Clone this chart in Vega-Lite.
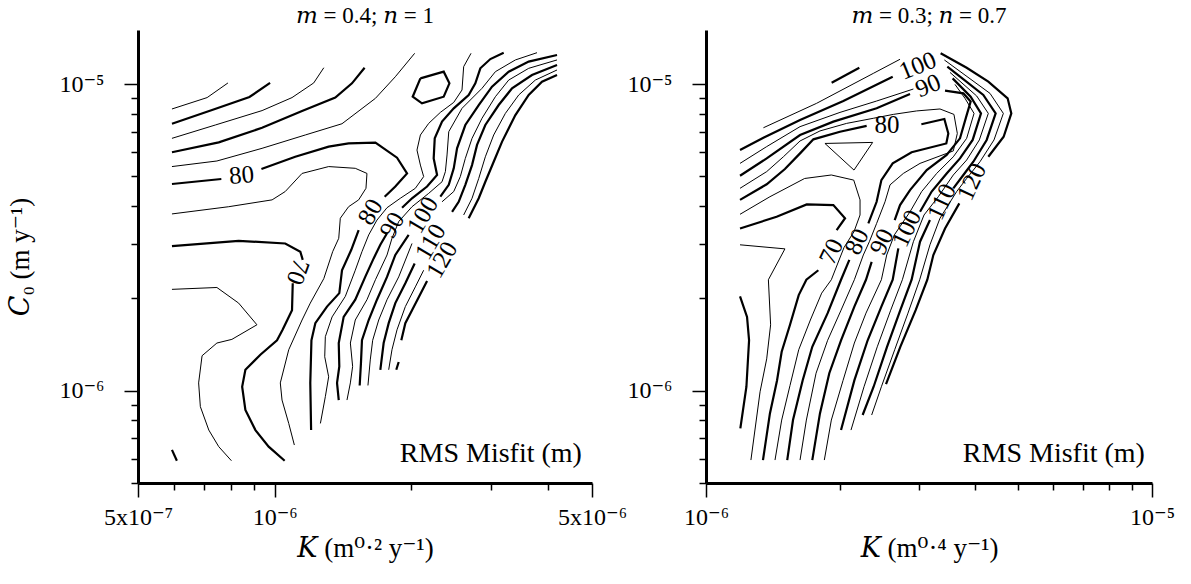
{
  "$schema": "https://vega.github.io/schema/vega-lite/v6.json",
  "background": "white",
  "padding": {"left": 6, "top": 5, "right": 5, "bottom": 5},
  "bounds": "flush",
  "spacing": 114,
  "config": {
    "view": {"stroke": null},
    "font": "Times New Roman, Liberation Serif, DejaVu Serif, serif",
    "axis": {"domainColor": "black", "domainWidth": 3, "tickColor": "black", "tickWidth": 1.5, "labelColor": "black", "labelFont": "Times New Roman, Liberation Serif, DejaVu Serif, serif", "labelFontSize": 24, "titleFont": "Times New Roman, Liberation Serif, DejaVu Serif, serif", "titleFontSize": 27, "titleFontWeight": "normal", "titleColor": "black", "grid": false, "labelFlush": false, "labelOverlap": false},
    "title": {"font": "Times New Roman, Liberation Serif, DejaVu Serif, serif", "fontSize": 23, "fontWeight": "normal", "color": "black"},
    "text": {"font": "Times New Roman, Liberation Serif, DejaVu Serif, serif", "color": "black"}
  },
  "datasets": {
    "leftLines": [
      {"id": "A1", "kind": "minor", "K": 5.94e-7, "C0": 8.29e-6}, {"id": "A1", "kind": "minor", "K": 7.10e-7, "C0": 9.03e-6}, {"id": "A1", "kind": "minor", "K": 7.89e-7, "C0": 1.008e-5},
      {"id": "A2", "kind": "major", "K": 5.94e-7, "C0": 7.42e-6}, {"id": "A2", "kind": "major", "K": 7.28e-7, "C0": 8.23e-6}, {"id": "A2", "kind": "major", "K": 8.80e-7, "C0": 9.07e-6}, {"id": "A2", "kind": "major", "K": 9.77e-7, "C0": 1.008e-5},
      {"id": "A3", "kind": "minor", "K": 5.94e-7, "C0": 6.65e-6}, {"id": "A3", "kind": "minor", "K": 7.40e-7, "C0": 7.35e-6}, {"id": "A3", "kind": "minor", "K": 9.38e-7, "C0": 8.19e-6}, {"id": "A3", "kind": "minor", "K": 1.092e-6, "C0": 9.03e-6}, {"id": "A3", "kind": "minor", "K": 1.219e-6, "C0": 1.008e-5}, {"id": "A3", "kind": "minor", "K": 1.283e-6, "C0": 1.130e-5},
      {"id": "A4", "kind": "major", "K": 5.94e-7, "C0": 5.99e-6}, {"id": "A4", "kind": "major", "K": 7.53e-7, "C0": 6.45e-6}, {"id": "A4", "kind": "major", "K": 9.38e-7, "C0": 7.20e-6}, {"id": "A4", "kind": "major", "K": 1.149e-6, "C0": 8.17e-6}, {"id": "A4", "kind": "major", "K": 1.360e-6, "C0": 9.03e-6}, {"id": "A4", "kind": "major", "K": 1.480e-6, "C0": 1.005e-5}, {"id": "A4", "kind": "major", "K": 1.578e-6, "C0": 1.130e-5},
      {"id": "A5", "kind": "minor", "K": 5.94e-7, "C0": 5.38e-6}, {"id": "A5", "kind": "minor", "K": 7.46e-7, "C0": 5.61e-6}, {"id": "A5", "kind": "minor", "K": 9.38e-7, "C0": 6.17e-6}, {"id": "A5", "kind": "minor", "K": 1.168e-6, "C0": 6.82e-6}, {"id": "A5", "kind": "minor", "K": 1.407e-6, "C0": 7.42e-6}, {"id": "A5", "kind": "minor", "K": 1.667e-6, "C0": 8.98e-6}, {"id": "A5", "kind": "minor", "K": 1.844e-6, "C0": 1.056e-5}, {"id": "A5", "kind": "minor", "K": 2.034e-6, "C0": 1.259e-5},
      {"id": "L80a", "kind": "major", "K": 5.94e-7, "C0": 4.72e-6}, {"id": "L80a", "kind": "major", "K": 7.63e-7, "C0": 4.90e-6},
      {"id": "L80b", "kind": "major", "K": 9.35e-7, "C0": 5.28e-6}, {"id": "L80b", "kind": "major", "K": 1.110e-6, "C0": 5.79e-6}, {"id": "L80b", "kind": "major", "K": 1.315e-6, "C0": 6.25e-6}, {"id": "L80b", "kind": "major", "K": 1.455e-6, "C0": 6.40e-6}, {"id": "L80b", "kind": "major", "K": 1.667e-6, "C0": 6.44e-6}, {"id": "L80b", "kind": "major", "K": 1.860e-6, "C0": 5.75e-6}, {"id": "L80b", "kind": "major", "K": 1.957e-6, "C0": 5.11e-6}, {"id": "L80b", "kind": "major", "K": 1.844e-6, "C0": 4.63e-6}, {"id": "L80b", "kind": "major", "K": 1.747e-6, "C0": 4.29e-6},
      {"id": "L80c", "kind": "major", "K": 1.531e-6, "C0": 3.34e-6}, {"id": "L80c", "kind": "major", "K": 1.475e-6, "C0": 2.88e-6}, {"id": "L80c", "kind": "major", "K": 1.407e-6, "C0": 2.47e-6}, {"id": "L80c", "kind": "major", "K": 1.388e-6, "C0": 2.08e-6}, {"id": "L80c", "kind": "major", "K": 1.304e-6, "C0": 1.88e-6}, {"id": "L80c", "kind": "major", "K": 1.229e-6, "C0": 1.66e-6}, {"id": "L80c", "kind": "major", "K": 1.205e-6, "C0": 1.46e-6}, {"id": "L80c", "kind": "major", "K": 1.198e-6, "C0": 1.06e-6}, {"id": "L80c", "kind": "major", "K": 1.203e-6, "C0": 7.44e-7},
      {"id": "L75", "kind": "minor", "K": 5.94e-7, "C0": 3.77e-6}, {"id": "L75", "kind": "minor", "K": 7.92e-7, "C0": 3.98e-6}, {"id": "L75", "kind": "minor", "K": 9.87e-7, "C0": 4.19e-6}, {"id": "L75", "kind": "minor", "K": 1.055e-6, "C0": 4.46e-6}, {"id": "L75", "kind": "minor", "K": 1.149e-6, "C0": 5.11e-6}, {"id": "L75", "kind": "minor", "K": 1.315e-6, "C0": 5.38e-6}, {"id": "L75", "kind": "minor", "K": 1.505e-6, "C0": 5.31e-6}, {"id": "L75", "kind": "minor", "K": 1.597e-6, "C0": 5.11e-6}, {"id": "L75", "kind": "minor", "K": 1.589e-6, "C0": 4.57e-6}, {"id": "L75", "kind": "minor", "K": 1.531e-6, "C0": 4.19e-6}, {"id": "L75", "kind": "minor", "K": 1.455e-6, "C0": 3.98e-6}, {"id": "L75", "kind": "minor", "K": 1.395e-6, "C0": 3.65e-6}, {"id": "L75", "kind": "minor", "K": 1.384e-6, "C0": 3.14e-6}, {"id": "L75", "kind": "minor", "K": 1.342e-6, "C0": 2.84e-6}, {"id": "L75", "kind": "minor", "K": 1.283e-6, "C0": 2.32e-6}, {"id": "L75", "kind": "minor", "K": 1.198e-6, "C0": 1.93e-6}, {"id": "L75", "kind": "minor", "K": 1.149e-6, "C0": 1.70e-6}, {"id": "L75", "kind": "minor", "K": 1.074e-6, "C0": 1.36e-6}, {"id": "L75", "kind": "minor", "K": 1.029e-6, "C0": 1.06e-6}, {"id": "L75", "kind": "minor", "K": 1.038e-6, "C0": 9.32e-7}, {"id": "L75", "kind": "minor", "K": 1.074e-6, "C0": 7.82e-7}, {"id": "L75", "kind": "minor", "K": 1.105e-6, "C0": 6.65e-7},
      {"id": "L70a", "kind": "major", "K": 5.94e-7, "C0": 2.96e-6}, {"id": "L70a", "kind": "major", "K": 8.33e-7, "C0": 3.08e-6}, {"id": "L70a", "kind": "major", "K": 1.055e-6, "C0": 3.02e-6}, {"id": "L70a", "kind": "major", "K": 1.139e-6, "C0": 2.84e-6}, {"id": "L70a", "kind": "major", "K": 1.153e-6, "C0": 2.67e-6},
      {"id": "L70b", "kind": "major", "K": 1.096e-6, "C0": 2.24e-6}, {"id": "L70b", "kind": "major", "K": 1.092e-6, "C0": 1.83e-6}, {"id": "L70b", "kind": "major", "K": 1.041e-6, "C0": 1.58e-6}, {"id": "L70b", "kind": "major", "K": 1.012e-6, "C0": 1.46e-6}, {"id": "L70b", "kind": "major", "K": 9.30e-7, "C0": 1.31e-6}, {"id": "L70b", "kind": "major", "K": 8.62e-7, "C0": 1.17e-6}, {"id": "L70b", "kind": "major", "K": 8.48e-7, "C0": 1.03e-6}, {"id": "L70b", "kind": "major", "K": 8.62e-7, "C0": 8.65e-7}, {"id": "L70b", "kind": "major", "K": 9.07e-7, "C0": 7.44e-7}, {"id": "L70b", "kind": "major", "K": 9.70e-7, "C0": 6.57e-7}, {"id": "L70b", "kind": "major", "K": 1.052e-6, "C0": 5.91e-7},
      {"id": "L65", "kind": "minor", "K": 5.94e-7, "C0": 2.14e-6}, {"id": "L65", "kind": "minor", "K": 7.46e-7, "C0": 2.17e-6}, {"id": "L65", "kind": "minor", "K": 8.33e-7, "C0": 1.93e-6}, {"id": "L65", "kind": "minor", "K": 9.14e-7, "C0": 1.64e-6}, {"id": "L65", "kind": "minor", "K": 8.05e-7, "C0": 1.47e-6}, {"id": "L65", "kind": "minor", "K": 7.46e-7, "C0": 1.43e-6}, {"id": "L65", "kind": "minor", "K": 6.92e-7, "C0": 1.30e-6}, {"id": "L65", "kind": "minor", "K": 6.80e-7, "C0": 1.06e-6}, {"id": "L65", "kind": "minor", "K": 6.86e-7, "C0": 8.87e-7}, {"id": "L65", "kind": "minor", "K": 7.16e-7, "C0": 7.44e-7}, {"id": "L65", "kind": "minor", "K": 7.53e-7, "C0": 6.57e-7}, {"id": "L65", "kind": "minor", "K": 8.03e-7, "C0": 5.91e-7},
      {"id": "L60", "kind": "major", "K": 5.94e-7, "C0": 6.41e-7}, {"id": "L60", "kind": "major", "K": 6.09e-7, "C0": 5.91e-7},
      {"id": "L85", "kind": "minor", "K": 2.707e-6, "C0": 1.259e-5}, {"id": "L85", "kind": "minor", "K": 2.608e-6, "C0": 1.139e-5}, {"id": "L85", "kind": "minor", "K": 2.586e-6, "C0": 9.56e-6}, {"id": "L85", "kind": "minor", "K": 2.480e-6, "C0": 8.71e-6}, {"id": "L85", "kind": "minor", "K": 2.317e-6, "C0": 8.08e-6}, {"id": "L85", "kind": "minor", "K": 2.184e-6, "C0": 7.44e-6}, {"id": "L85", "kind": "minor", "K": 2.094e-6, "C0": 6.82e-6}, {"id": "L85", "kind": "minor", "K": 2.058e-6, "C0": 6.09e-6}, {"id": "L85", "kind": "minor", "K": 2.094e-6, "C0": 5.44e-6}, {"id": "L85", "kind": "minor", "K": 2.129e-6, "C0": 4.99e-6}, {"id": "L85", "kind": "minor", "K": 2.041e-6, "C0": 4.57e-6}, {"id": "L85", "kind": "minor", "K": 1.891e-6, "C0": 4.24e-6}, {"id": "L85", "kind": "minor", "K": 1.768e-6, "C0": 3.95e-6}, {"id": "L85", "kind": "minor", "K": 1.680e-6, "C0": 3.60e-6}, {"id": "L85", "kind": "minor", "K": 1.611e-6, "C0": 3.22e-6}, {"id": "L85", "kind": "minor", "K": 1.557e-6, "C0": 2.84e-6}, {"id": "L85", "kind": "minor", "K": 1.505e-6, "C0": 2.47e-6}, {"id": "L85", "kind": "minor", "K": 1.431e-6, "C0": 2.03e-6}, {"id": "L85", "kind": "minor", "K": 1.338e-6, "C0": 1.74e-6}, {"id": "L85", "kind": "minor", "K": 1.293e-6, "C0": 1.50e-6}, {"id": "L85", "kind": "minor", "K": 1.289e-6, "C0": 1.29e-6}, {"id": "L85", "kind": "minor", "K": 1.315e-6, "C0": 1.11e-6}, {"id": "L85", "kind": "minor", "K": 1.293e-6, "C0": 9.56e-7}, {"id": "L85", "kind": "minor", "K": 1.261e-6, "C0": 7.82e-7},
      {"id": "L90a", "kind": "major", "K": 3.195e-6, "C0": 1.265e-5}, {"id": "L90a", "kind": "major", "K": 2.986e-6, "C0": 1.206e-5}, {"id": "L90a", "kind": "major", "K": 2.838e-6, "C0": 1.125e-5}, {"id": "L90a", "kind": "major", "K": 2.767e-6, "C0": 1.005e-5}, {"id": "L90a", "kind": "major", "K": 2.675e-6, "C0": 9.21e-6}, {"id": "L90a", "kind": "major", "K": 2.480e-6, "C0": 8.33e-6}, {"id": "L90a", "kind": "major", "K": 2.337e-6, "C0": 7.54e-6}, {"id": "L90a", "kind": "major", "K": 2.252e-6, "C0": 6.65e-6}, {"id": "L90a", "kind": "major", "K": 2.240e-6, "C0": 5.72e-6}, {"id": "L90a", "kind": "major", "K": 2.279e-6, "C0": 5.05e-6}, {"id": "L90a", "kind": "major", "K": 2.166e-6, "C0": 4.63e-6}, {"id": "L90a", "kind": "major", "K": 2.007e-6, "C0": 4.24e-6}, {"id": "L90a", "kind": "major", "K": 1.908e-6, "C0": 3.95e-6},
      {"id": "L90b", "kind": "major", "K": 1.768e-6, "C0": 3.26e-6}, {"id": "L90b", "kind": "major", "K": 1.709e-6, "C0": 2.99e-6}, {"id": "L90b", "kind": "major", "K": 1.652e-6, "C0": 2.70e-6}, {"id": "L90b", "kind": "major", "K": 1.583e-6, "C0": 2.35e-6}, {"id": "L90b", "kind": "major", "K": 1.505e-6, "C0": 1.98e-6}, {"id": "L90b", "kind": "major", "K": 1.419e-6, "C0": 1.74e-6}, {"id": "L90b", "kind": "major", "K": 1.384e-6, "C0": 1.43e-6}, {"id": "L90b", "kind": "major", "K": 1.388e-6, "C0": 1.20e-6}, {"id": "L90b", "kind": "major", "K": 1.372e-6, "C0": 1.06e-6}, {"id": "L90b", "kind": "major", "K": 1.384e-6, "C0": 9.32e-7},
      {"id": "L95", "kind": "minor", "K": 3.783e-6, "C0": 1.265e-5}, {"id": "L95", "kind": "minor", "K": 3.390e-6, "C0": 1.198e-5}, {"id": "L95", "kind": "minor", "K": 3.063e-6, "C0": 1.097e-5}, {"id": "L95", "kind": "minor", "K": 2.862e-6, "C0": 9.68e-6}, {"id": "L95", "kind": "minor", "K": 2.586e-6, "C0": 8.33e-6}, {"id": "L95", "kind": "minor", "K": 2.418e-6, "C0": 6.99e-6}, {"id": "L95", "kind": "minor", "K": 2.397e-6, "C0": 5.87e-6}, {"id": "L95", "kind": "minor", "K": 2.377e-6, "C0": 5.18e-6}, {"id": "L95", "kind": "minor", "K": 2.337e-6, "C0": 4.80e-6}, {"id": "L95", "kind": "minor", "K": 2.184e-6, "C0": 4.40e-6}, {"id": "L95", "kind": "minor", "K": 2.007e-6, "C0": 3.98e-6}, {"id": "L95", "kind": "minor", "K": 1.876e-6, "C0": 3.56e-6}, {"id": "L95", "kind": "minor", "K": 1.813e-6, "C0": 3.14e-6}, {"id": "L95", "kind": "minor", "K": 1.768e-6, "C0": 2.77e-6}, {"id": "L95", "kind": "minor", "K": 1.667e-6, "C0": 2.30e-6}, {"id": "L95", "kind": "minor", "K": 1.597e-6, "C0": 1.98e-6}, {"id": "L95", "kind": "minor", "K": 1.505e-6, "C0": 1.70e-6}, {"id": "L95", "kind": "minor", "K": 1.468e-6, "C0": 1.43e-6}, {"id": "L95", "kind": "minor", "K": 1.485e-6, "C0": 1.20e-6}, {"id": "L95", "kind": "minor", "K": 1.468e-6, "C0": 1.06e-6}, {"id": "L95", "kind": "minor", "K": 1.443e-6, "C0": 9.32e-7},
      {"id": "L100a", "kind": "major", "K": 4.187e-6, "C0": 1.243e-5}, {"id": "L100a", "kind": "major", "K": 3.627e-6, "C0": 1.183e-5}, {"id": "L100a", "kind": "major", "K": 3.277e-6, "C0": 1.097e-5}, {"id": "L100a", "kind": "major", "K": 3.011e-6, "C0": 9.80e-6}, {"id": "L100a", "kind": "major", "K": 2.815e-6, "C0": 8.54e-6}, {"id": "L100a", "kind": "major", "K": 2.630e-6, "C0": 7.35e-6}, {"id": "L100a", "kind": "major", "K": 2.522e-6, "C0": 6.17e-6}, {"id": "L100a", "kind": "major", "K": 2.480e-6, "C0": 5.31e-6}, {"id": "L100a", "kind": "major", "K": 2.418e-6, "C0": 4.69e-6}, {"id": "L100a", "kind": "major", "K": 2.317e-6, "C0": 4.29e-6},
      {"id": "L100b", "kind": "major", "K": 1.973e-6, "C0": 3.22e-6}, {"id": "L100b", "kind": "major", "K": 1.844e-6, "C0": 2.77e-6}, {"id": "L100b", "kind": "major", "K": 1.768e-6, "C0": 2.35e-6}, {"id": "L100b", "kind": "major", "K": 1.680e-6, "C0": 1.98e-6}, {"id": "L100b", "kind": "major", "K": 1.611e-6, "C0": 1.70e-6}, {"id": "L100b", "kind": "major", "K": 1.557e-6, "C0": 1.46e-6}, {"id": "L100b", "kind": "major", "K": 1.549e-6, "C0": 1.23e-6}, {"id": "L100b", "kind": "major", "K": 1.539e-6, "C0": 1.04e-6},
      {"id": "L105a", "kind": "minor", "K": 4.187e-6, "C0": 1.198e-5}, {"id": "L105a", "kind": "minor", "K": 3.627e-6, "C0": 1.125e-5}, {"id": "L105a", "kind": "minor", "K": 3.277e-6, "C0": 1.030e-5}, {"id": "L105a", "kind": "minor", "K": 3.063e-6, "C0": 9.09e-6}, {"id": "L105a", "kind": "minor", "K": 2.862e-6, "C0": 7.73e-6}, {"id": "L105a", "kind": "minor", "K": 2.721e-6, "C0": 6.65e-6}, {"id": "L105a", "kind": "minor", "K": 2.630e-6, "C0": 5.72e-6}, {"id": "L105a", "kind": "minor", "K": 2.564e-6, "C0": 4.99e-6}, {"id": "L105a", "kind": "minor", "K": 2.480e-6, "C0": 4.46e-6}, {"id": "L105a", "kind": "minor", "K": 2.337e-6, "C0": 4.13e-6},
      {"id": "L105b", "kind": "minor", "K": 2.007e-6, "C0": 3.02e-6}, {"id": "L105b", "kind": "minor", "K": 1.876e-6, "C0": 2.35e-6}, {"id": "L105b", "kind": "minor", "K": 1.768e-6, "C0": 1.98e-6}, {"id": "L105b", "kind": "minor", "K": 1.695e-6, "C0": 1.70e-6}, {"id": "L105b", "kind": "minor", "K": 1.644e-6, "C0": 1.46e-6}, {"id": "L105b", "kind": "minor", "K": 1.624e-6, "C0": 1.26e-6}, {"id": "L105b", "kind": "minor", "K": 1.605e-6, "C0": 1.04e-6},
      {"id": "L110a", "kind": "major", "K": 4.187e-6, "C0": 1.153e-5}, {"id": "L110a", "kind": "major", "K": 3.688e-6, "C0": 1.070e-5}, {"id": "L110a", "kind": "major", "K": 3.333e-6, "C0": 9.68e-6}, {"id": "L110a", "kind": "major", "K": 3.115e-6, "C0": 8.54e-6}, {"id": "L110a", "kind": "major", "K": 2.911e-6, "C0": 7.35e-6}, {"id": "L110a", "kind": "major", "K": 2.791e-6, "C0": 6.33e-6}, {"id": "L110a", "kind": "major", "K": 2.721e-6, "C0": 5.44e-6}, {"id": "L110a", "kind": "major", "K": 2.630e-6, "C0": 4.69e-6}, {"id": "L110a", "kind": "major", "K": 2.543e-6, "C0": 4.13e-6}, {"id": "L110a", "kind": "major", "K": 2.459e-6, "C0": 3.83e-6},
      {"id": "L110b", "kind": "major", "K": 2.034e-6, "C0": 2.60e-6}, {"id": "L110b", "kind": "major", "K": 1.940e-6, "C0": 2.24e-6}, {"id": "L110b", "kind": "major", "K": 1.844e-6, "C0": 1.93e-6}, {"id": "L110b", "kind": "major", "K": 1.783e-6, "C0": 1.66e-6}, {"id": "L110b", "kind": "major", "K": 1.738e-6, "C0": 1.43e-6}, {"id": "L110b", "kind": "major", "K": 1.709e-6, "C0": 1.17e-6},
      {"id": "L115a", "kind": "minor", "K": 4.187e-6, "C0": 1.111e-5}, {"id": "L115a", "kind": "minor", "K": 3.751e-6, "C0": 1.030e-5}, {"id": "L115a", "kind": "minor", "K": 3.448e-6, "C0": 9.21e-6}, {"id": "L115a", "kind": "minor", "K": 3.222e-6, "C0": 8.02e-6}, {"id": "L115a", "kind": "minor", "K": 3.037e-6, "C0": 6.82e-6}, {"id": "L115a", "kind": "minor", "K": 2.911e-6, "C0": 5.79e-6}, {"id": "L115a", "kind": "minor", "K": 2.815e-6, "C0": 4.92e-6}, {"id": "L115a", "kind": "minor", "K": 2.721e-6, "C0": 4.24e-6}, {"id": "L115a", "kind": "minor", "K": 2.608e-6, "C0": 3.74e-6},
      {"id": "L115b", "kind": "minor", "K": 2.129e-6, "C0": 2.47e-6}, {"id": "L115b", "kind": "minor", "K": 2.041e-6, "C0": 2.18e-6}, {"id": "L115b", "kind": "minor", "K": 1.940e-6, "C0": 1.88e-6}, {"id": "L115b", "kind": "minor", "K": 1.860e-6, "C0": 1.58e-6}, {"id": "L115b", "kind": "minor", "K": 1.813e-6, "C0": 1.36e-6}, {"id": "L115b", "kind": "minor", "K": 1.783e-6, "C0": 1.17e-6},
      {"id": "L120a", "kind": "major", "K": 4.187e-6, "C0": 1.070e-5}, {"id": "L120a", "kind": "major", "K": 3.880e-6, "C0": 1.018e-5}, {"id": "L120a", "kind": "major", "K": 3.627e-6, "C0": 9.21e-6}, {"id": "L120a", "kind": "major", "K": 3.390e-6, "C0": 7.92e-6}, {"id": "L120a", "kind": "major", "K": 3.169e-6, "C0": 6.49e-6}, {"id": "L120a", "kind": "major", "K": 3.037e-6, "C0": 5.58e-6}, {"id": "L120a", "kind": "major", "K": 2.911e-6, "C0": 4.80e-6}, {"id": "L120a", "kind": "major", "K": 2.815e-6, "C0": 4.24e-6}, {"id": "L120a", "kind": "major", "K": 2.675e-6, "C0": 3.65e-6},
      {"id": "L120b", "kind": "major", "K": 2.166e-6, "C0": 2.28e-6}, {"id": "L120b", "kind": "major", "K": 2.007e-6, "C0": 1.83e-6}, {"id": "L120b", "kind": "major", "K": 1.940e-6, "C0": 1.66e-6}, {"id": "L120b", "kind": "major", "K": 1.901e-6, "C0": 1.46e-6},
      {"id": "Lsh", "kind": "major", "K": 1.876e-6, "C0": 1.24e-6}, {"id": "Lsh", "kind": "major", "K": 1.853e-6, "C0": 1.17e-6},
      {"id": "Hex", "kind": "major", "K": 2.094e-6, "C0": 1.043e-5}, {"id": "Hex", "kind": "major", "K": 2.357e-6, "C0": 1.097e-5}, {"id": "Hex", "kind": "major", "K": 2.426e-6, "C0": 1.005e-5}, {"id": "Hex", "kind": "major", "K": 2.357e-6, "C0": 9.09e-6}, {"id": "Hex", "kind": "major", "K": 2.111e-6, "C0": 8.65e-6}, {"id": "Hex", "kind": "major", "K": 2.014e-6, "C0": 9.09e-6}, {"id": "Hex", "kind": "major", "K": 2.094e-6, "C0": 1.043e-5}
    ],
    "leftLabels": [
      {"label": "80", "orient": "flat", "K": 8.45e-7, "C0": 5.05e-6},
      {"label": "80", "orient": "steep", "K": 1.624e-6, "C0": 3.83e-6},
      {"label": "90", "orient": "steep", "K": 1.813e-6, "C0": 3.47e-6},
      {"label": "100", "orient": "steep", "K": 2.118e-6, "C0": 3.74e-6},
      {"label": "110", "orient": "steep", "K": 2.203e-6, "C0": 3.06e-6},
      {"label": "120", "orient": "steep", "K": 2.337e-6, "C0": 2.67e-6},
      {"label": "70", "orient": "down", "K": 1.126e-6, "C0": 2.44e-6}
    ],
    "rightLines": [
      {"id": "R60", "kind": "major", "K": 1.192e-6, "C0": 2.03e-6}, {"id": "R60", "kind": "major", "K": 1.236e-6, "C0": 1.74e-6}, {"id": "R60", "kind": "major", "K": 1.249e-6, "C0": 1.46e-6}, {"id": "R60", "kind": "major", "K": 1.232e-6, "C0": 1.03e-6}, {"id": "R60", "kind": "major", "K": 1.194e-6, "C0": 7.54e-7},
      {"id": "R65", "kind": "minor", "K": 1.192e-6, "C0": 2.99e-6}, {"id": "R65", "kind": "minor", "K": 1.503e-6, "C0": 2.90e-6}, {"id": "R65", "kind": "minor", "K": 1.380e-6, "C0": 2.30e-6}, {"id": "R65", "kind": "minor", "K": 1.396e-6, "C0": 1.64e-6}, {"id": "R65", "kind": "minor", "K": 1.368e-6, "C0": 1.27e-6}, {"id": "R65", "kind": "minor", "K": 1.322e-6, "C0": 9.92e-7}, {"id": "R65", "kind": "minor", "K": 1.261e-6, "C0": 5.94e-7},
      {"id": "R70a", "kind": "major", "K": 1.192e-6, "C0": 3.38e-6}, {"id": "R70a", "kind": "major", "K": 1.440e-6, "C0": 3.69e-6}, {"id": "R70a", "kind": "major", "K": 1.682e-6, "C0": 4.05e-6}, {"id": "R70a", "kind": "major", "K": 1.930e-6, "C0": 4.03e-6}, {"id": "R70a", "kind": "major", "K": 2.050e-6, "C0": 3.65e-6}, {"id": "R70a", "kind": "major", "K": 1.963e-6, "C0": 3.34e-6},
      {"id": "R70b", "kind": "major", "K": 1.786e-6, "C0": 2.47e-6}, {"id": "R70b", "kind": "major", "K": 1.679e-6, "C0": 2.30e-6}, {"id": "R70b", "kind": "major", "K": 1.614e-6, "C0": 2.05e-6}, {"id": "R70b", "kind": "major", "K": 1.543e-6, "C0": 1.64e-6}, {"id": "R70b", "kind": "major", "K": 1.478e-6, "C0": 1.34e-6}, {"id": "R70b", "kind": "major", "K": 1.443e-6, "C0": 1.08e-6}, {"id": "R70b", "kind": "major", "K": 1.391e-6, "C0": 8.43e-7}, {"id": "R70b", "kind": "major", "K": 1.342e-6, "C0": 5.94e-7},
      {"id": "R75", "kind": "minor", "K": 1.192e-6, "C0": 3.76e-6}, {"id": "R75", "kind": "minor", "K": 1.391e-6, "C0": 4.29e-6}, {"id": "R75", "kind": "minor", "K": 1.664e-6, "C0": 4.92e-6}, {"id": "R75", "kind": "minor", "K": 1.910e-6, "C0": 5.05e-6}, {"id": "R75", "kind": "minor", "K": 2.144e-6, "C0": 4.86e-6}, {"id": "R75", "kind": "minor", "K": 2.215e-6, "C0": 4.19e-6}, {"id": "R75", "kind": "minor", "K": 2.215e-6, "C0": 3.74e-6}, {"id": "R75", "kind": "minor", "K": 2.147e-6, "C0": 3.30e-6}, {"id": "R75", "kind": "minor", "K": 2.039e-6, "C0": 2.93e-6}, {"id": "R75", "kind": "minor", "K": 1.910e-6, "C0": 2.30e-6}, {"id": "R75", "kind": "minor", "K": 1.817e-6, "C0": 2.08e-6}, {"id": "R75", "kind": "minor", "K": 1.714e-6, "C0": 1.70e-6}, {"id": "R75", "kind": "minor", "K": 1.614e-6, "C0": 1.36e-6}, {"id": "R75", "kind": "minor", "K": 1.543e-6, "C0": 1.04e-6}, {"id": "R75", "kind": "minor", "K": 1.478e-6, "C0": 8.02e-7}, {"id": "R75", "kind": "minor", "K": 1.428e-6, "C0": 5.94e-7},
      {"id": "Rtri", "kind": "minor", "K": 1.848e-6, "C0": 6.40e-6}, {"id": "Rtri", "kind": "minor", "K": 2.364e-6, "C0": 6.45e-6}, {"id": "Rtri", "kind": "minor", "K": 2.147e-6, "C0": 5.24e-6}, {"id": "Rtri", "kind": "minor", "K": 1.848e-6, "C0": 6.40e-6},
      {"id": "R80a", "kind": "major", "K": 1.521e-6, "C0": 5.94e-7}, {"id": "R80a", "kind": "major", "K": 1.567e-6, "C0": 8.02e-7}, {"id": "R80a", "kind": "major", "K": 1.647e-6, "C0": 1.08e-6}, {"id": "R80a", "kind": "major", "K": 1.731e-6, "C0": 1.39e-6}, {"id": "R80a", "kind": "major", "K": 1.874e-6, "C0": 1.79e-6}, {"id": "R80a", "kind": "major", "K": 2.008e-6, "C0": 2.30e-6}, {"id": "R80a", "kind": "major", "K": 2.096e-6, "C0": 2.67e-6},
      {"id": "R80b", "kind": "major", "K": 2.312e-6, "C0": 3.51e-6}, {"id": "R80b", "kind": "major", "K": 2.413e-6, "C0": 4.13e-6}, {"id": "R80b", "kind": "major", "K": 2.473e-6, "C0": 4.86e-6}, {"id": "R80b", "kind": "major", "K": 2.622e-6, "C0": 5.51e-6}, {"id": "R80b", "kind": "major", "K": 2.891e-6, "C0": 5.99e-6}, {"id": "R80b", "kind": "major", "K": 3.458e-6, "C0": 6.40e-6}, {"id": "R80b", "kind": "major", "K": 3.494e-6, "C0": 6.90e-6}, {"id": "R80b", "kind": "major", "K": 3.423e-6, "C0": 7.69e-6}, {"id": "R80b", "kind": "major", "K": 3.040e-6, "C0": 7.39e-6},
      {"id": "R80c", "kind": "major", "K": 2.292e-6, "C0": 7.30e-6}, {"id": "R80c", "kind": "major", "K": 1.997e-6, "C0": 6.99e-6}, {"id": "R80c", "kind": "major", "K": 1.741e-6, "C0": 6.60e-6}, {"id": "R80c", "kind": "major", "K": 1.625e-6, "C0": 5.94e-6}, {"id": "R80c", "kind": "major", "K": 1.503e-6, "C0": 5.28e-6}, {"id": "R80c", "kind": "major", "K": 1.368e-6, "C0": 4.71e-6}, {"id": "R80c", "kind": "major", "K": 1.192e-6, "C0": 4.19e-6},
      {"id": "R85", "kind": "minor", "K": 1.625e-6, "C0": 5.94e-7}, {"id": "R85", "kind": "minor", "K": 1.679e-6, "C0": 8.02e-7}, {"id": "R85", "kind": "minor", "K": 1.765e-6, "C0": 1.14e-6}, {"id": "R85", "kind": "minor", "K": 1.874e-6, "C0": 1.46e-6}, {"id": "R85", "kind": "minor", "K": 2.008e-6, "C0": 1.83e-6}, {"id": "R85", "kind": "minor", "K": 2.151e-6, "C0": 2.30e-6}, {"id": "R85", "kind": "minor", "K": 2.253e-6, "C0": 2.77e-6}, {"id": "R85", "kind": "minor", "K": 2.324e-6, "C0": 3.06e-6}, {"id": "R85", "kind": "minor", "K": 2.413e-6, "C0": 3.51e-6}, {"id": "R85", "kind": "minor", "K": 2.520e-6, "C0": 4.13e-6}, {"id": "R85", "kind": "minor", "K": 2.586e-6, "C0": 4.69e-6}, {"id": "R85", "kind": "minor", "K": 2.770e-6, "C0": 5.11e-6}, {"id": "R85", "kind": "minor", "K": 3.019e-6, "C0": 5.51e-6}, {"id": "R85", "kind": "minor", "K": 3.585e-6, "C0": 6.05e-6}, {"id": "R85", "kind": "minor", "K": 3.660e-6, "C0": 6.90e-6}, {"id": "R85", "kind": "minor", "K": 3.597e-6, "C0": 7.96e-6}, {"id": "R85", "kind": "minor", "K": 3.347e-6, "C0": 8.29e-6}, {"id": "R85", "kind": "minor", "K": 2.967e-6, "C0": 8.17e-6}, {"id": "R85", "kind": "minor", "K": 2.630e-6, "C0": 7.96e-6}, {"id": "R85", "kind": "minor", "K": 2.372e-6, "C0": 7.73e-6}, {"id": "R85", "kind": "minor", "K": 2.067e-6, "C0": 7.44e-6}, {"id": "R85", "kind": "minor", "K": 1.801e-6, "C0": 7.03e-6}, {"id": "R85", "kind": "minor", "K": 1.625e-6, "C0": 6.52e-6}, {"id": "R85", "kind": "minor", "K": 1.491e-6, "C0": 5.79e-6}, {"id": "R85", "kind": "minor", "K": 1.368e-6, "C0": 5.18e-6}, {"id": "R85", "kind": "minor", "K": 1.192e-6, "C0": 4.57e-6},
      {"id": "R90a", "kind": "major", "K": 1.192e-6, "C0": 5.02e-6}, {"id": "R90a", "kind": "major", "K": 1.368e-6, "C0": 5.72e-6}, {"id": "R90a", "kind": "major", "K": 1.625e-6, "C0": 6.82e-6}, {"id": "R90a", "kind": "major", "K": 1.930e-6, "C0": 7.54e-6}, {"id": "R90a", "kind": "major", "K": 2.413e-6, "C0": 8.33e-6}, {"id": "R90a", "kind": "major", "K": 2.867e-6, "C0": 9.28e-6},
      {"id": "R90b", "kind": "major", "K": 3.435e-6, "C0": 9.51e-6}, {"id": "R90b", "kind": "major", "K": 3.776e-6, "C0": 9.32e-6}, {"id": "R90b", "kind": "major", "K": 3.921e-6, "C0": 8.76e-6}, {"id": "R90b", "kind": "major", "K": 3.841e-6, "C0": 7.92e-6}, {"id": "R90b", "kind": "major", "K": 3.711e-6, "C0": 6.65e-6}, {"id": "R90b", "kind": "major", "K": 3.464e-6, "C0": 5.87e-6}, {"id": "R90b", "kind": "major", "K": 3.125e-6, "C0": 5.24e-6}, {"id": "R90b", "kind": "major", "K": 2.867e-6, "C0": 4.51e-6}, {"id": "R90b", "kind": "major", "K": 2.723e-6, "C0": 4.03e-6}, {"id": "R90b", "kind": "major", "K": 2.649e-6, "C0": 3.60e-6},
      {"id": "R90c", "kind": "major", "K": 2.352e-6, "C0": 2.63e-6}, {"id": "R90c", "kind": "major", "K": 2.284e-6, "C0": 2.30e-6}, {"id": "R90c", "kind": "major", "K": 2.151e-6, "C0": 1.88e-6}, {"id": "R90c", "kind": "major", "K": 2.008e-6, "C0": 1.46e-6}, {"id": "R90c", "kind": "major", "K": 1.890e-6, "C0": 1.14e-6}, {"id": "R90c", "kind": "major", "K": 1.801e-6, "C0": 8.43e-7}, {"id": "R90c", "kind": "major", "K": 1.731e-6, "C0": 5.94e-7},
      {"id": "R95a", "kind": "minor", "K": 1.192e-6, "C0": 5.51e-6}, {"id": "R95a", "kind": "minor", "K": 1.368e-6, "C0": 6.25e-6}, {"id": "R95a", "kind": "minor", "K": 1.625e-6, "C0": 7.26e-6}, {"id": "R95a", "kind": "minor", "K": 1.997e-6, "C0": 8.08e-6}, {"id": "R95a", "kind": "minor", "K": 2.413e-6, "C0": 8.80e-6}, {"id": "R95a", "kind": "minor", "K": 2.917e-6, "C0": 9.63e-6},
      {"id": "R95b", "kind": "minor", "K": 3.616e-6, "C0": 9.97e-6}, {"id": "R95b", "kind": "minor", "K": 3.808e-6, "C0": 8.98e-6}, {"id": "R95b", "kind": "minor", "K": 3.990e-6, "C0": 8.02e-6}, {"id": "R95b", "kind": "minor", "K": 3.841e-6, "C0": 6.65e-6}, {"id": "R95b", "kind": "minor", "K": 3.585e-6, "C0": 5.79e-6}, {"id": "R95b", "kind": "minor", "K": 3.290e-6, "C0": 5.11e-6}, {"id": "R95b", "kind": "minor", "K": 3.045e-6, "C0": 4.46e-6}, {"id": "R95b", "kind": "minor", "K": 2.867e-6, "C0": 3.83e-6}, {"id": "R95b", "kind": "minor", "K": 2.644e-6, "C0": 3.22e-6}, {"id": "R95b", "kind": "minor", "K": 2.542e-6, "C0": 2.77e-6}, {"id": "R95b", "kind": "minor", "K": 2.473e-6, "C0": 2.30e-6}, {"id": "R95b", "kind": "minor", "K": 2.284e-6, "C0": 1.79e-6}, {"id": "R95b", "kind": "minor", "K": 2.151e-6, "C0": 1.43e-6}, {"id": "R95b", "kind": "minor", "K": 2.029e-6, "C0": 1.08e-6}, {"id": "R95b", "kind": "minor", "K": 1.910e-6, "C0": 8.02e-7}, {"id": "R95b", "kind": "minor", "K": 1.842e-6, "C0": 5.94e-7},
      {"id": "R100a", "kind": "major", "K": 1.192e-6, "C0": 6.09e-6}, {"id": "R100a", "kind": "major", "K": 1.345e-6, "C0": 6.68e-6}, {"id": "R100a", "kind": "major", "K": 1.625e-6, "C0": 7.63e-6}, {"id": "R100a", "kind": "major", "K": 2.032e-6, "C0": 8.80e-6}, {"id": "R100a", "kind": "major", "K": 2.622e-6, "C0": 1.056e-5},
      {"id": "R100b", "kind": "major", "K": 3.573e-6, "C0": 1.043e-5}, {"id": "R100b", "kind": "major", "K": 3.921e-6, "C0": 9.09e-6}, {"id": "R100b", "kind": "major", "K": 4.136e-6, "C0": 8.02e-6}, {"id": "R100b", "kind": "major", "K": 3.962e-6, "C0": 6.57e-6}, {"id": "R100b", "kind": "major", "K": 3.711e-6, "C0": 5.72e-6}, {"id": "R100b", "kind": "major", "K": 3.464e-6, "C0": 5.11e-6}, {"id": "R100b", "kind": "major", "K": 3.206e-6, "C0": 4.46e-6}, {"id": "R100b", "kind": "major", "K": 3.019e-6, "C0": 3.83e-6},
      {"id": "R100c", "kind": "major", "K": 2.699e-6, "C0": 2.91e-6}, {"id": "R100c", "kind": "major", "K": 2.622e-6, "C0": 2.30e-6}, {"id": "R100c", "kind": "major", "K": 2.473e-6, "C0": 1.88e-6}, {"id": "R100c", "kind": "major", "K": 2.304e-6, "C0": 1.46e-6}, {"id": "R100c", "kind": "major", "K": 2.151e-6, "C0": 1.08e-6}, {"id": "R100c", "kind": "major", "K": 2.008e-6, "C0": 7.44e-7},
      {"id": "R105a", "kind": "minor", "K": 1.345e-6, "C0": 7.20e-6}, {"id": "R105a", "kind": "minor", "K": 1.770e-6, "C0": 8.65e-6}, {"id": "R105a", "kind": "minor", "K": 2.372e-6, "C0": 1.083e-5}, {"id": "R105a", "kind": "minor", "K": 2.723e-6, "C0": 1.204e-5},
      {"id": "R105b", "kind": "minor", "K": 3.524e-6, "C0": 1.091e-5}, {"id": "R105b", "kind": "minor", "K": 4.045e-6, "C0": 9.14e-6}, {"id": "R105b", "kind": "minor", "K": 4.295e-6, "C0": 8.02e-6}, {"id": "R105b", "kind": "minor", "K": 4.101e-6, "C0": 6.57e-6}, {"id": "R105b", "kind": "minor", "K": 3.841e-6, "C0": 5.65e-6}, {"id": "R105b", "kind": "minor", "K": 3.585e-6, "C0": 5.05e-6}, {"id": "R105b", "kind": "minor", "K": 3.318e-6, "C0": 4.29e-6}, {"id": "R105b", "kind": "minor", "K": 3.082e-6, "C0": 3.74e-6}, {"id": "R105b", "kind": "minor", "K": 2.917e-6, "C0": 3.06e-6}, {"id": "R105b", "kind": "minor", "K": 2.756e-6, "C0": 2.30e-6}, {"id": "R105b", "kind": "minor", "K": 2.595e-6, "C0": 1.83e-6}, {"id": "R105b", "kind": "minor", "K": 2.421e-6, "C0": 1.39e-6}, {"id": "R105b", "kind": "minor", "K": 2.261e-6, "C0": 1.03e-6}, {"id": "R105b", "kind": "minor", "K": 2.114e-6, "C0": 7.44e-7},
      {"id": "R110a", "kind": "major", "K": 1.913e-6, "C0": 1.010e-5}, {"id": "R110a", "kind": "major", "K": 2.207e-6, "C0": 1.130e-5},
      {"id": "R110b", "kind": "major", "K": 3.476e-6, "C0": 1.139e-5}, {"id": "R110b", "kind": "major", "K": 4.186e-6, "C0": 9.21e-6}, {"id": "R110b", "kind": "major", "K": 4.461e-6, "C0": 8.02e-6}, {"id": "R110b", "kind": "major", "K": 4.259e-6, "C0": 6.57e-6}, {"id": "R110b", "kind": "major", "K": 3.976e-6, "C0": 5.58e-6}, {"id": "R110b", "kind": "major", "K": 3.776e-6, "C0": 5.05e-6}, {"id": "R110b", "kind": "major", "K": 3.585e-6, "C0": 4.57e-6},
      {"id": "R110c", "kind": "major", "K": 3.178e-6, "C0": 3.60e-6}, {"id": "R110c", "kind": "major", "K": 3.019e-6, "C0": 3.06e-6}, {"id": "R110c", "kind": "major", "K": 2.891e-6, "C0": 2.30e-6}, {"id": "R110c", "kind": "major", "K": 2.727e-6, "C0": 1.83e-6}, {"id": "R110c", "kind": "major", "K": 2.546e-6, "C0": 1.39e-6}, {"id": "R110c", "kind": "major", "K": 2.376e-6, "C0": 1.03e-6}, {"id": "R110c", "kind": "major", "K": 2.245e-6, "C0": 8.33e-7},
      {"id": "R115", "kind": "minor", "K": 3.423e-6, "C0": 1.198e-5}, {"id": "R115", "kind": "minor", "K": 4.333e-6, "C0": 9.32e-6}, {"id": "R115", "kind": "minor", "K": 4.642e-6, "C0": 8.02e-6}, {"id": "R115", "kind": "minor", "K": 4.423e-6, "C0": 6.57e-6}, {"id": "R115", "kind": "minor", "K": 4.115e-6, "C0": 5.58e-6}, {"id": "R115", "kind": "minor", "K": 3.841e-6, "C0": 4.92e-6}, {"id": "R115", "kind": "minor", "K": 3.648e-6, "C0": 4.46e-6}, {"id": "R115", "kind": "minor", "K": 3.347e-6, "C0": 3.65e-6}, {"id": "R115", "kind": "minor", "K": 3.178e-6, "C0": 2.99e-6}, {"id": "R115", "kind": "minor", "K": 3.014e-6, "C0": 2.30e-6}, {"id": "R115", "kind": "minor", "K": 2.837e-6, "C0": 1.79e-6}, {"id": "R115", "kind": "minor", "K": 2.649e-6, "C0": 1.36e-6}, {"id": "R115", "kind": "minor", "K": 2.473e-6, "C0": 1.03e-6}, {"id": "R115", "kind": "minor", "K": 2.352e-6, "C0": 8.33e-7},
      {"id": "R120a", "kind": "major", "K": 3.358e-6, "C0": 1.259e-5}, {"id": "R120a", "kind": "major", "K": 3.841e-6, "C0": 1.130e-5}, {"id": "R120a", "kind": "major", "K": 4.295e-6, "C0": 1.018e-5}, {"id": "R120a", "kind": "major", "K": 4.746e-6, "C0": 8.98e-6}, {"id": "R120a", "kind": "major", "K": 4.837e-6, "C0": 8.02e-6}, {"id": "R120a", "kind": "major", "K": 4.649e-6, "C0": 6.73e-6}, {"id": "R120a", "kind": "major", "K": 4.295e-6, "C0": 5.79e-6},
      {"id": "R120b", "kind": "major", "K": 3.698e-6, "C0": 4.08e-6}, {"id": "R120b", "kind": "major", "K": 3.435e-6, "C0": 3.38e-6}, {"id": "R120b", "kind": "major", "K": 3.234e-6, "C0": 2.77e-6}, {"id": "R120b", "kind": "major", "K": 3.135e-6, "C0": 2.30e-6}, {"id": "R120b", "kind": "major", "K": 2.952e-6, "C0": 1.83e-6}, {"id": "R120b", "kind": "major", "K": 2.727e-6, "C0": 1.39e-6}, {"id": "R120b", "kind": "major", "K": 2.533e-6, "C0": 1.05e-6}
    ],
    "rightLabels": [
      {"label": "100", "orient": "top", "K": 2.983e-6, "C0": 1.148e-5},
      {"label": "90", "orient": "top", "K": 3.146e-6, "C0": 9.88e-6},
      {"label": "80", "orient": "flat", "K": 2.546e-6, "C0": 7.35e-6},
      {"label": "70", "orient": "steep", "K": 1.910e-6, "C0": 2.84e-6},
      {"label": "80", "orient": "steep", "K": 2.177e-6, "C0": 3.06e-6},
      {"label": "90", "orient": "steep", "K": 2.477e-6, "C0": 3.06e-6},
      {"label": "100", "orient": "steep", "K": 2.818e-6, "C0": 3.38e-6},
      {"label": "110", "orient": "steep", "K": 3.376e-6, "C0": 4.13e-6},
      {"label": "120", "orient": "steep", "K": 3.941e-6, "C0": 4.80e-6}
    ],
    "notesLeft": [{"K": 4.75e-6, "C0": 5.85e-7, "note": "RMS Misfit (m)"}],
    "notesRight": [{"K": 9.64e-6, "C0": 5.85e-7, "note": "RMS Misfit (m)"}]
  },
  "hconcat": [
    {
      "width": 454,
      "height": 453,
      "title": {"text": "𝑚 = 0.4; 𝑛 = 1", "offset": 2},
      "encoding": {
        "x": {"field": "K", "type": "quantitative", "scale": {"type": "log", "domain": [5e-7, 5e-6]},
          "axis": {"title": "𝐾 (m⁰·² y⁻¹)", "values": [5e-7, 6e-7, 7e-7, 8e-7, 9e-7, 1e-6, 2e-6, 3e-6, 4e-6, 5e-6],
            "labelExpr": "abs(datum.value-5e-7)<1e-12 ? '5x10⁻⁷' : abs(datum.value-1e-6)<1e-12 ? '10⁻⁶' : abs(datum.value-5e-6)<1e-12 ? '5x10⁻⁶' : ''",
            "tickSize": {"condition": {"test": "abs(datum.value-5e-7)<1e-12 || abs(datum.value-1e-6)<1e-12 || abs(datum.value-5e-6)<1e-12", "value": 14}, "value": 7},
            "labelPadding": 8, "titlePadding": 6}},
        "y": {"field": "C0", "type": "quantitative", "scale": {"type": "log", "domain": [5e-7, 1.5e-5]},
          "axis": {"title": "𝐶₀ (m y⁻¹)", "values": [5e-7, 6e-7, 7e-7, 8e-7, 9e-7, 1e-6, 2e-6, 3e-6, 4e-6, 5e-6, 6e-6, 7e-6, 8e-6, 9e-6, 1e-5],
            "labelExpr": "abs(datum.value-1e-6)<1e-12 ? '10⁻⁶' : abs(datum.value-1e-5)<1e-11 ? '10⁻⁵' : ''",
            "tickSize": {"condition": {"test": "abs(datum.value-1e-6)<1e-12 || abs(datum.value-1e-5)<1e-11", "value": 14}, "value": 7},
            "labelPadding": 20, "titlePadding": 24}}
      },
      "layer": [
        {"data": {"name": "leftLines"}, "mark": {"type": "line", "color": "black", "clip": true},
          "encoding": {"detail": {"field": "id"}, "order": {"value": null},
            "strokeWidth": {"field": "kind", "type": "nominal", "scale": {"domain": ["major", "minor"], "range": [2.2, 1]}, "legend": null}}},
        {"data": {"name": "leftLabels"}, "transform": [{"filter": "datum.orient == 'flat'"}], "mark": {"type": "text", "fontSize": 25, "angle": 355}, "encoding": {"text": {"field": "label"}}},
        {"data": {"name": "leftLabels"}, "transform": [{"filter": "datum.orient == 'steep'"}], "mark": {"type": "text", "fontSize": 25, "angle": 300}, "encoding": {"text": {"field": "label"}}},
        {"data": {"name": "leftLabels"}, "transform": [{"filter": "datum.orient == 'down'"}], "mark": {"type": "text", "fontSize": 25, "angle": 110}, "encoding": {"text": {"field": "label"}}},
        {"data": {"name": "notesLeft"}, "mark": {"type": "text", "fontSize": 28, "align": "right", "baseline": "alphabetic"}, "encoding": {"text": {"field": "note"}}}
      ]
    },
    {
      "width": 446,
      "height": 453,
      "title": {"text": "𝑚 = 0.3; 𝑛 = 0.7", "offset": 2},
      "encoding": {
        "x": {"field": "K", "type": "quantitative", "scale": {"type": "log", "domain": [1e-6, 1e-5]},
          "axis": {"title": "𝐾 (m⁰·⁴ y⁻¹)", "values": [1e-6, 2e-6, 3e-6, 4e-6, 5e-6, 6e-6, 7e-6, 8e-6, 9e-6, 1e-5],
            "labelExpr": "abs(datum.value-1e-6)<1e-12 ? '10⁻⁶' : abs(datum.value-1e-5)<1e-11 ? '10⁻⁵' : ''",
            "tickSize": {"condition": {"test": "abs(datum.value-1e-6)<1e-12 || abs(datum.value-1e-5)<1e-11", "value": 14}, "value": 7},
            "labelPadding": 8, "titlePadding": 6}},
        "y": {"field": "C0", "type": "quantitative", "scale": {"type": "log", "domain": [5e-7, 1.5e-5]},
          "axis": {"title": null, "values": [5e-7, 6e-7, 7e-7, 8e-7, 9e-7, 1e-6, 2e-6, 3e-6, 4e-6, 5e-6, 6e-6, 7e-6, 8e-6, 9e-6, 1e-5],
            "labelExpr": "abs(datum.value-1e-6)<1e-12 ? '10⁻⁶' : abs(datum.value-1e-5)<1e-11 ? '10⁻⁵' : ''",
            "tickSize": {"condition": {"test": "abs(datum.value-1e-6)<1e-12 || abs(datum.value-1e-5)<1e-11", "value": 14}, "value": 7},
            "labelPadding": 20}}
      },
      "layer": [
        {"data": {"name": "rightLines"}, "mark": {"type": "line", "color": "black", "clip": true},
          "encoding": {"detail": {"field": "id"}, "order": {"value": null},
            "strokeWidth": {"field": "kind", "type": "nominal", "scale": {"domain": ["major", "minor"], "range": [2.2, 1]}, "legend": null}}},
        {"data": {"name": "rightLabels"}, "transform": [{"filter": "datum.orient == 'flat'"}], "mark": {"type": "text", "fontSize": 25, "angle": 0}, "encoding": {"text": {"field": "label"}}},
        {"data": {"name": "rightLabels"}, "transform": [{"filter": "datum.orient == 'top'"}], "mark": {"type": "text", "fontSize": 25, "angle": 338}, "encoding": {"text": {"field": "label"}}},
        {"data": {"name": "rightLabels"}, "transform": [{"filter": "datum.orient == 'steep'"}], "mark": {"type": "text", "fontSize": 25, "angle": 295}, "encoding": {"text": {"field": "label"}}},
        {"data": {"name": "notesRight"}, "mark": {"type": "text", "fontSize": 28, "align": "right", "baseline": "alphabetic"}, "encoding": {"text": {"field": "note"}}}
      ]
    }
  ]
}
